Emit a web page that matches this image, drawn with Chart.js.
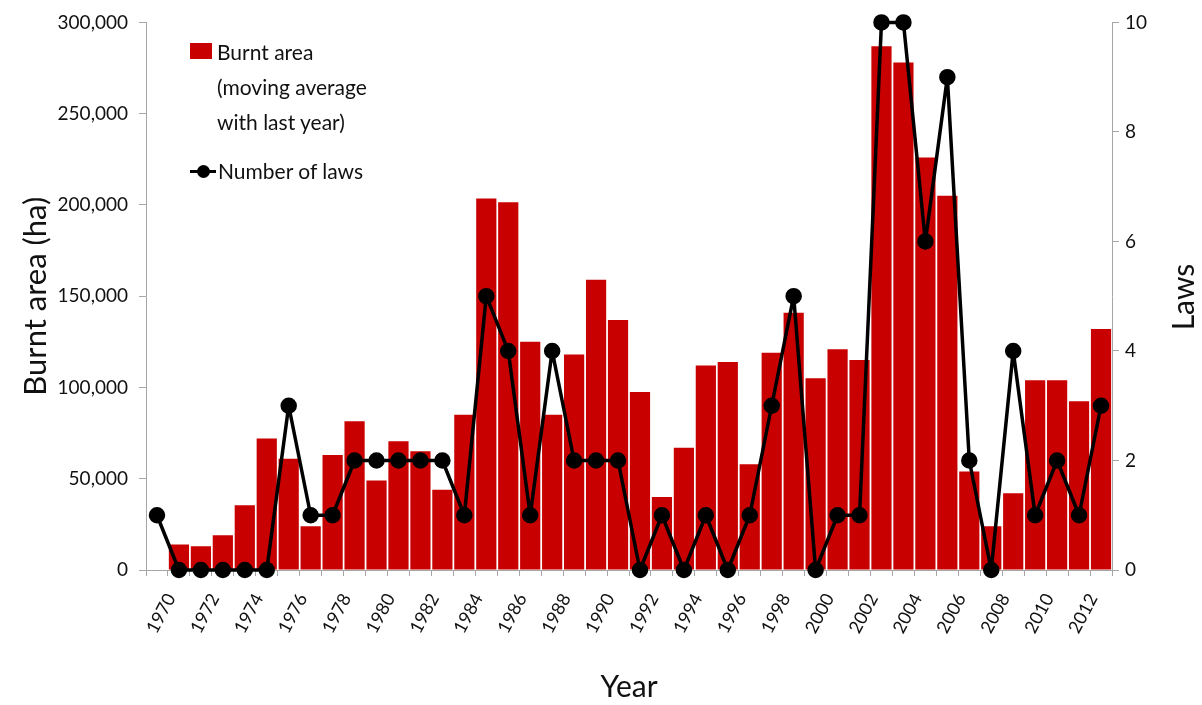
<!DOCTYPE html>
<html>
<head>
<meta charset="utf-8">
<script src="https://cdn.jsdelivr.net/npm/chart.js@4"></script>
<style>
  html, body { margin: 0; padding: 0; background: #fff; }
  #wrap { position: relative; width: 1202px; height: 705px; }
  #legend { position: absolute; left: 190px; top: 34px; font-family: Lato, sans-serif; font-size: 21px; color: #111; line-height: 35px; }
  .row { display: flex; align-items: flex-start; }
  .swatch { width: 22px; height: 16px; background: #C80000; margin-top: 9px; margin-right: 5px; }
  .lineMark { position: relative; width: 26px; height: 35px; margin-right: 2px; }
  .lineMark::before { content: ''; position: absolute; left: 0; right: 0; top: 17px; height: 3px; background: #000; }
  .lineMark::after { content: ''; position: absolute; left: 7px; top: 12px; width: 13px; height: 13px; border-radius: 50%; background: #000; }
</style>
</head>
<body>
<div id="wrap">
  <canvas id="fireChart" width="1202" height="705"></canvas>
  <div id="legend">
    <div class="row"><div class="swatch"></div><div>Burnt area<br>(moving average<br>with last year)</div></div>
    <div class="row" style="margin-top:14px"><div class="lineMark"></div><div>Number of laws</div></div>
  </div>
</div>
<script>
// --- DATA ---
const years = [];
for (let y = 1970; y <= 2013; y++) years.push(String(y));

// burnt area, moving average with last year (ha)
const burntArea = [
    null, 14000, 13000, 19000, 35500, 72000, 61000, 24000, 63000, 81500,
    49000, 70500, 65000, 44000, 85000, 203500, 201500, 125000, 85000, 118000,
    159000, 137000, 97500, 40000, 67000, 112000, 114000, 58000, 119000, 141000,
    105000, 121000, 115000, 287000, 278000, 226000, 205000, 54000, 24000, 42000,
    104000, 104000, 92500, 132000
];

const numberOfLaws = [
    1, 0, 0, 0, 0, 0, 3, 1, 1, 2,
    2, 2, 2, 2, 1, 5, 4, 1, 4, 2,
    2, 2, 0, 1, 0, 1, 0, 1, 3, 5,
    0, 1, 1, 10, 10, 6, 9, 2, 0, 4,
    1, 2, 1, 3
];

const areaTicks = [0, 50000, 100000, 150000, 200000, 250000, 300000];
const lawTicks = [0, 2, 4, 6, 8, 10];

// --- CHART ---
const axisGrey = '#A6A6A6';
const tickFont = { family: 'Lato, sans-serif', size: 19 };

// right axis title reads bottom-to-top like the left one
const lawsTitle = {
    id: 'lawsTitle',
    afterDraw(chart) {
        const ctx = chart.ctx;
        ctx.save();
        ctx.translate(1184, 297);
        ctx.rotate(-Math.PI / 2);
        ctx.font = '30px Lato, sans-serif';
        ctx.fillStyle = '#111';
        ctx.textAlign = 'center';
        ctx.textBaseline = 'middle';
        ctx.fillText('Laws', 0, 0);
        ctx.restore();
    }
};

const ctx = document.getElementById('fireChart').getContext('2d');
new Chart(ctx, {
    type: 'bar',
    data: {
        labels: years,
        datasets: [
            {
                type: 'line',
                label: 'Number of laws',
                data: numberOfLaws,
                yAxisID: 'y1',
                borderColor: '#000',
                backgroundColor: '#000',
                borderWidth: 3.5,
                borderJoinStyle: 'round',
                pointRadius: 6.5,
                pointBackgroundColor: '#000',
                tension: 0,
                clip: false,
                order: 0
            },
            {
                label: 'Burnt area (moving average with last year)',
                data: burntArea,
                yAxisID: 'y',
                backgroundColor: '#C80000',
                barPercentage: 0.92,
                categoryPercentage: 1,
                order: 1
            }
        ]
    },
    options: {
        responsive: false,
        animation: false,
        layout: { padding: { top: 22, left: 0, right: 0, bottom: 0 } },
        plugins: { legend: { display: false }, tooltip: { enabled: false } },
        scales: {
            x: {
                grid: { display: true, drawOnChartArea: false, offset: true, tickLength: 6, color: axisGrey },
                border: { color: axisGrey },
                ticks: {
                    autoSkip: false,
                    minRotation: 62,
                    maxRotation: 62,
                    labelOffset: 14,
                    padding: 14,
                    color: '#111',
                    font: { family: 'Lato, sans-serif', size: 18 },
                    callback: (v, i) => (i % 2 === 0 ? years[i] : '')
                },
                title: { display: true, text: 'Year', font: { family: 'Lato, sans-serif', size: 30 }, color: '#111', padding: { top: 10, bottom: 0 } },
                afterFit: s => { s.height = 135; }
            },
            y: {
                position: 'left',
                min: 0,
                max: 300000,
                afterBuildTicks: s => { s.ticks = areaTicks.map(v => ({ value: v })); },
                grid: { display: true, drawOnChartArea: false, tickLength: 7, color: axisGrey },
                border: { color: axisGrey },
                ticks: { color: '#111', font: tickFont, padding: 11 },
                title: { display: true, text: 'Burnt area (ha)', font: { family: 'Lato, sans-serif', size: 31 }, color: '#111', padding: { top: 17, bottom: 0 } },
                afterFit: s => { s.width = 146; }
            },
            y1: {
                position: 'right',
                min: 0,
                max: 10,
                afterBuildTicks: s => { s.ticks = lawTicks.map(v => ({ value: v })); },
                grid: { display: true, drawOnChartArea: false, tickLength: 7, color: axisGrey },
                border: { color: axisGrey },
                ticks: { color: '#111', font: tickFont, padding: 6 },
                afterFit: s => { s.width = 90; }
            }
        }
    },
    plugins: [lawsTitle]
});
</script>
</body>
</html>
